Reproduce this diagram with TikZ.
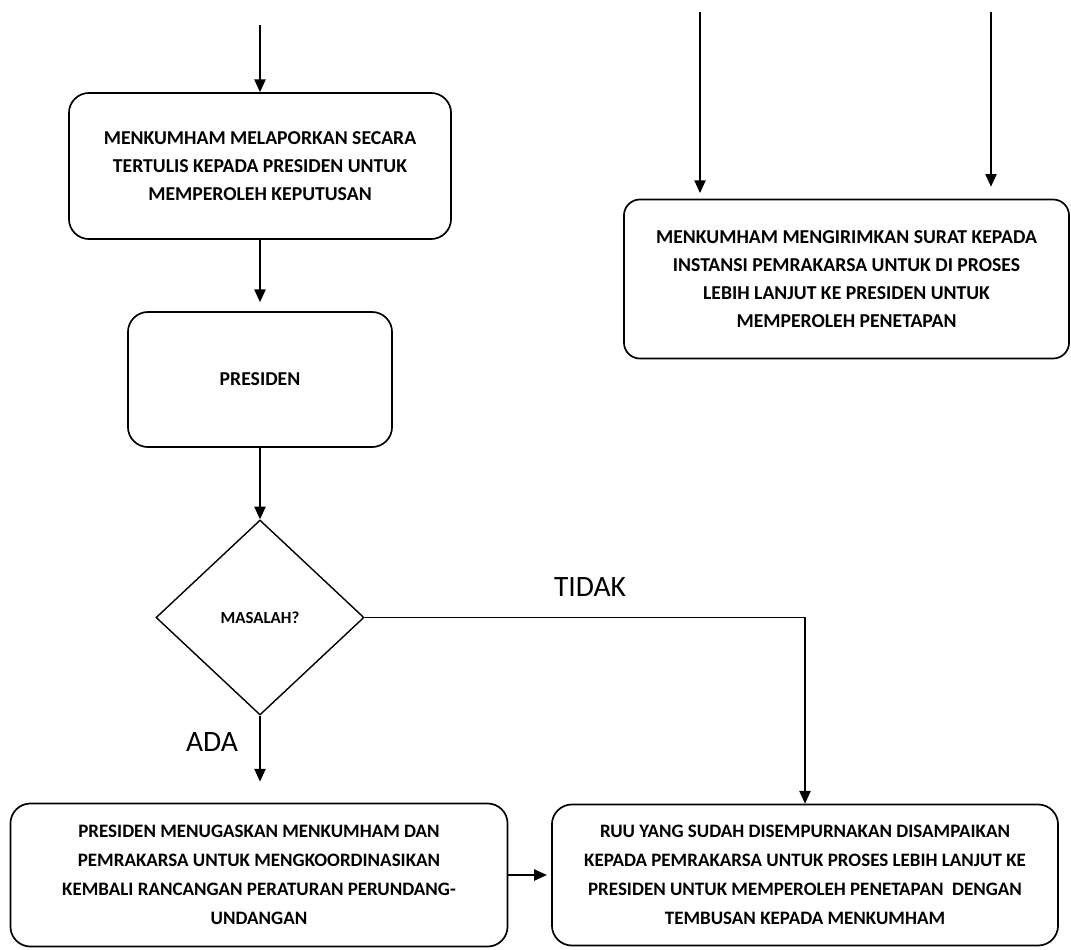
\documentclass[tikz,border=0pt]{standalone}
\usepackage{fontspec}
\setmainfont{Carlito}
\usetikzlibrary{shapes.geometric,arrows.meta}

\begin{document}
\begin{tikzpicture}[x=0.025cm, y=-0.025cm, line width=1pt,
        every node/.style={font=\bfseries\fontsize{14}{20}\selectfont}]
        \tikzstyle{boxStyle} = [rectangle, rounded corners=0.5cm, draw=black, line width=1.2pt, fill=white, align=center, inner sep=0pt]
        \tikzstyle{decisionStyle} = [diamond, draw=black, fill=white, inner sep=0pt, minimum width=5.2cm, minimum height=4.875cm]
        \tikzstyle{arrowStyle} = [draw=black, -{Triangle[length=9pt,width=8pt]}]
        \tikzstyle{labelStyle} = [font=\fontsize{21}{24}\selectfont]
        \useasboundingbox (0,0) rectangle (1071,949);
        \node[boxStyle, minimum width=9.55cm, minimum height=3.65cm] (lapor) at (260,166)
            {MENKUMHAM MELAPORKAN SECARA\\TERTULIS KEPADA PRESIDEN UNTUK\\MEMPEROLEH KEPUTUSAN};
        \node[boxStyle, minimum width=6.6cm, minimum height=3.375cm] (presiden) at (260,379.5) {PRESIDEN};
        \node[decisionStyle] (masalah) at (260,617.5) {\fontsize{12}{14}\selectfont MASALAH?};
        \node[boxStyle, minimum width=12.425cm, minimum height=3.575cm,
            font=\bfseries\fontsize{13.5}{20.5}\selectfont] (tugas) at (259,875)
            {PRESIDEN MENUGASKAN MENKUMHAM DAN\\PEMRAKARSA UNTUK MENGKOORDINASIKAN\\KEMBALI RANCANGAN PERATURAN PERUNDANG-\\UNDANGAN};
        \node[boxStyle, minimum width=12.65cm, minimum height=3.525cm,
            font=\bfseries\fontsize{13.5}{20.5}\selectfont] (ruu) at (805,875)
            {RUU YANG SUDAH DISEMPURNAKAN DISAMPAIKAN\\KEPADA PEMRAKARSA UNTUK PROSES LEBIH LANJUT KE\\PRESIDEN UNTUK MEMPEROLEH PENETAPAN\ \ DENGAN\\TEMBUSAN KEPADA MENKUMHAM};
        \node[boxStyle, minimum width=11.125cm, minimum height=3.975cm, rounded corners=0.4cm] (surat) at (846.5,279)
            {MENKUMHAM MENGIRIMKAN SURAT KEPADA\\INSTANSI PEMRAKARSA UNTUK DI PROSES\\LEBIH LANJUT KE PRESIDEN UNTUK\\MEMPEROLEH PENETAPAN};
        \node[labelStyle] (tidak) at (590,587) {TIDAK};
        \node[labelStyle] (ada) at (212,742) {ADA};
        \coordinate (masuk) at (260,25);
        \coordinate (masukKiri) at (700,12);
        \coordinate (masukKanan) at (991,12);
        \draw[arrowStyle] (masuk) -- (lapor.north);
        \draw[arrowStyle, shorten >=6.4pt] (lapor.south) -- (presiden.north);
        \draw[arrowStyle] (presiden.south) -- (masalah.north);
        \draw[arrowStyle, shorten >=15pt] (masalah.south) -- (masalah.south |- tugas.north);
        \draw[arrowStyle] (masalah.east) -| (ruu.north);
        \draw[arrowStyle, shorten >=3pt] (tugas.east) -- (ruu.west);
        \foreach \from/\gap in {masukKiri/4pt, masukKanan/8.5pt}
            \draw[arrowStyle, shorten >=\gap] (\from) -- (\from |- surat.north);
\end{tikzpicture}
\end{document}
